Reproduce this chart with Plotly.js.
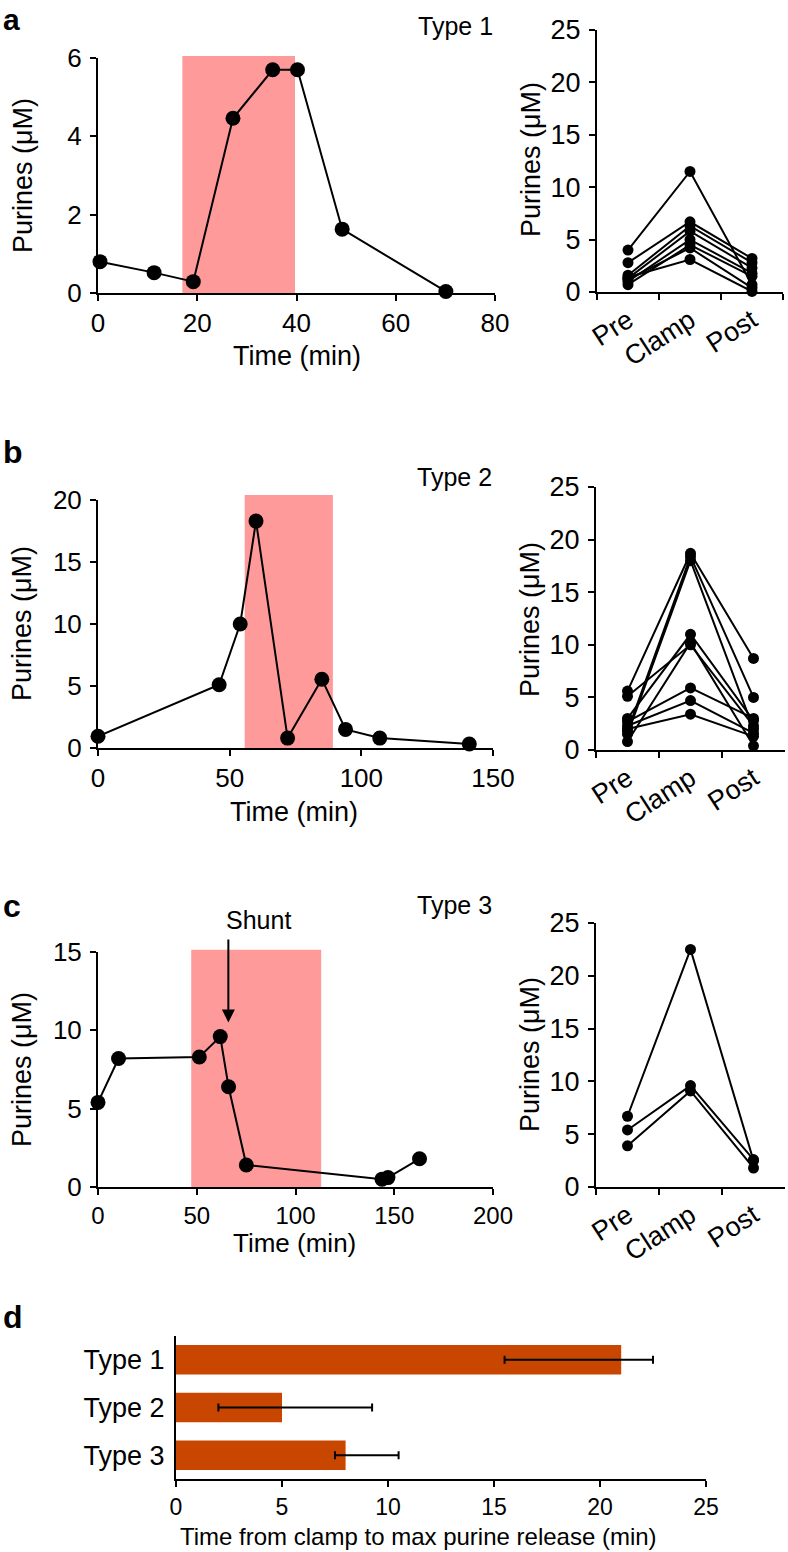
<!DOCTYPE html>
<html>
<head>
<meta charset="utf-8">
<script src="https://cdn.plot.ly/plotly-3.0.1.min.js"></script>
<style>
  html, body { margin: 0; padding: 0; background: #fff; }
  #chart { width: 788px; height: 1552px; }
</style>
</head>
<body>
<div id="chart"></div>
<script>
// time courses (min, uM)
const type1Time = [0.4, 11.3, 19.2, 27.2, 35.2, 40.2, 49.2, 70.1];
const type1Purines = [0.8, 0.52, 0.29, 4.46, 5.7, 5.7, 1.63, 0.04];
const type2Time = [0, 46, 54, 60, 72, 85, 94, 107, 141];
const type2Purines = [0.95, 5.1, 10.0, 18.3, 0.8, 5.55, 1.5, 0.8, 0.32];
const type3Time = [0, 10.4, 51.3, 61.9, 66.1, 75.1, 143.8, 146.8, 162.8];
const type3Purines = [5.4, 8.2, 8.3, 9.6, 6.4, 1.4, 0.5, 0.6, 1.8];

// clamp windows (min)
const clampType1 = [17, 39.7];
const clampType2 = [55.7, 89.2];
const clampType3 = [47.2, 113];

// paired Pre / Clamp / Post per patient (uM)
const phases = ['Pre', 'Clamp', 'Post'];
const pairedType1 = [
  [4.0, 11.5, 0.7], [2.8, 6.7, 3.2], [1.6, 6.3, 2.8], [1.3, 5.8, 2.3],
  [1.0, 5.0, 1.8], [0.7, 4.5, 1.5], [1.2, 4.2, 0.4], [1.4, 3.1, 0.05]
];
const pairedType2 = [
  [5.6, 18.7, 8.7], [5.1, 10.0, 2.3], [1.8, 18.4, 5.0], [1.5, 18.0, 2.0],
  [3.0, 11.0, 2.8], [2.7, 5.9, 3.0], [2.3, 4.7, 1.6], [2.0, 3.4, 1.3],
  [0.8, 10.2, 0.4]
];
const pairedType3 = [[6.7, 22.5, 2.5], [5.4, 9.6, 2.6], [3.9, 9.1, 1.8]];

// panel d: time from clamp to max purine release (min)
const types = ['Type 1', 'Type 2', 'Type 3'];
const timeToMax = [21, 5, 8];
const timeLow = [15.5, 2.0, 7.5];
const timeHigh = [22.5, 9.25, 10.5];

const W = 788, H = 1552;
const FONT = 'Liberation Sans, Arial, sans-serif';
const PINK = '#fe9a9a';
const BAR = '#c84600';

function xdom(l, r) { return [l / W, r / W]; }
function ydom(top, bottom) { return [1 - bottom / H, 1 - top / H]; }
function px(x) { return x / W; }
function py(y) { return 1 - y / H; }
function f(size) { return { family: FONT, size: size, color: '#000' }; }

function baseAxis(extra) {
  return Object.assign({
    showline: true, linecolor: '#000', linewidth: 2,
    ticks: 'outside', ticklen: 6, tickwidth: 2, tickcolor: '#000',
    showgrid: false, zeroline: false, fixedrange: true,
    tickfont: f(26)
  }, extra);
}

function yNum(extra) {
  return baseAxis(Object.assign({ ticklabelstandoff: 3 }, extra));
}

function catAxis(extra) {
  return baseAxis(Object.assign({
    type: 'category', categoryarray: phases, categoryorder: 'array',
    range: [-0.5, 2.5], tickson: 'boundaries', tickangle: -33,
    tickfont: f(27)
  }, extra));
}

const traces = [];

function timeCourse(x, y, n) {
  traces.push({
    type: 'scatter', mode: 'lines+markers', x: x, y: y,
    xaxis: 'x' + n, yaxis: 'y' + n, cliponaxis: false, showlegend: false,
    line: { color: '#000', width: 2 },
    marker: { color: '#000', size: 15 }
  });
}

function paired(rows, n) {
  rows.forEach(r => {
    traces.push({
      type: 'scatter', mode: 'lines+markers', x: phases, y: r,
      xaxis: 'x' + n, yaxis: 'y' + n, cliponaxis: false, showlegend: false,
      line: { color: '#000', width: 2 },
      marker: { color: '#000', size: 11 }
    });
  });
}

timeCourse(type1Time, type1Purines, '');
paired(pairedType1, 2);
timeCourse(type2Time, type2Purines, 3);
paired(pairedType2, 4);
timeCourse(type3Time, type3Purines, 5);
paired(pairedType3, 6);

traces.push({
  type: 'bar', orientation: 'h', x: timeToMax, y: types,
  xaxis: 'x7', yaxis: 'y7', width: 0.62, showlegend: false,
  marker: { color: BAR, line: { width: 0 } },
  error_x: {
    type: 'data', symmetric: false,
    array: timeHigh.map((v, i) => v - timeToMax[i]),
    arrayminus: timeToMax.map((v, i) => v - timeLow[i]),
    color: '#000', thickness: 2, width: 4
  }
});

function clampRect(win, n, top) {
  return {
    type: 'rect', xref: 'x' + n, yref: 'y' + n + ' domain',
    x0: win[0], x1: win[1], y0: 0, y1: top,
    fillcolor: PINK, line: { width: 0 }, layer: 'below'
  };
}

function label(text, x, y, opts) {
  return Object.assign({
    text: text, xref: 'paper', yref: 'paper', x: px(x), y: py(y),
    showarrow: false, xanchor: 'center', yanchor: 'middle',
    font: f(26)
  }, opts || {});
}

function yTitle(x, y) {
  return label('Purines (μM)', x, y, { textangle: -90, font: f(27) });
}

const annotations = [
  label('<b>a</b>', 1, 20, { xanchor: 'left', font: f(30) }),
  label('<b>b</b>', 1, 452, { xanchor: 'left', font: f(32) }),
  label('<b>c</b>', 1, 906, { xanchor: 'left', font: f(32) }),
  label('<b>d</b>', 1, 1317, { xanchor: 'left', font: f(32) }),
  label('Type 1', 495, 26, { xanchor: 'right', font: f(25) }),
  label('Type 2', 494, 477, { xanchor: 'right', font: f(25) }),
  label('Type 3', 494, 905, { xanchor: 'right', font: f(25) }),
  label('Shunt', 258, 920, { font: f(25) }),
  yTitle(23, 176), label('Time (min)', 297, 356, { font: f(27) }),
  yTitle(531, 160),
  yTitle(22, 624), label('Time (min)', 294, 812, { font: f(27) }),
  yTitle(530, 620),
  yTitle(22, 1070), label('Time (min)', 294, 1243, { font: f(26) }),
  yTitle(530, 1055),
  label('Time from clamp to max purine release (min)', 418, 1536, { font: f(24) }),
  {
    text: '', xref: 'x5', yref: 'y5', axref: 'x5', ayref: 'y5',
    x: 66, y: 10.5, ax: 66, ay: 15.9,
    showarrow: true, arrowhead: 2, arrowsize: 1.3, arrowwidth: 2, arrowcolor: '#000'
  }
];

const layout = {
  width: W, height: H, autosize: false,
  margin: { l: 0, r: 0, t: 0, b: 0 },
  paper_bgcolor: '#fff', plot_bgcolor: 'rgba(0,0,0,0)',
  showlegend: false,
  font: { family: FONT, color: '#000' },

  xaxis: baseAxis({ domain: xdom(98, 495), range: [0, 80], dtick: 20, anchor: 'y' }),
  yaxis: yNum({ domain: ydom(58, 293), range: [0, 6], dtick: 2, anchor: 'x' }),

  xaxis2: catAxis({ domain: xdom(597, 783), anchor: 'y2' }),
  yaxis2: yNum({ domain: ydom(30, 292), range: [0, 25], dtick: 5, anchor: 'x2', tickfont: f(27) }),

  xaxis3: baseAxis({ domain: xdom(98, 493), range: [0, 150], dtick: 50, anchor: 'y3' }),
  yaxis3: yNum({ domain: ydom(500, 748), range: [0, 20], dtick: 5, anchor: 'x3' }),

  xaxis4: catAxis({ domain: xdom(596, 785), anchor: 'y4' }),
  yaxis4: yNum({ domain: ydom(487, 750), range: [0, 25], dtick: 5, anchor: 'x4', tickfont: f(27) }),

  xaxis5: baseAxis({ domain: xdom(98, 493), range: [0, 200], dtick: 50, anchor: 'y5',
    tickfont: f(24), ticklabelstandoff: 0 }),
  yaxis5: yNum({ domain: ydom(952, 1187), range: [0, 15], dtick: 5, anchor: 'x5' }),

  xaxis6: catAxis({ domain: xdom(596, 785), anchor: 'y6' }),
  yaxis6: yNum({ domain: ydom(923, 1187), range: [0, 25], dtick: 5, anchor: 'x6', tickfont: f(27) }),

  xaxis7: baseAxis({ domain: xdom(176, 706), range: [0, 25], dtick: 5, anchor: 'y7',
    tickfont: f(23), ticklabelstandoff: 0 }),
  yaxis7: baseAxis({ domain: ydom(1336, 1479), type: 'category', categoryarray: types,
    categoryorder: 'array', range: [2.5, -0.5], ticks: '', anchor: 'x7',
    tickfont: f(27), ticklabelstandoff: 4 }),

  shapes: [
    clampRect(clampType1, '', 1.008),
    clampRect(clampType2, 3, 1.02),
    clampRect(clampType3, 5, 1.01)
  ],
  annotations: annotations
};

Plotly.newPlot('chart', traces, layout, { displayModeBar: false, staticPlot: true });
</script>
</body>
</html>
